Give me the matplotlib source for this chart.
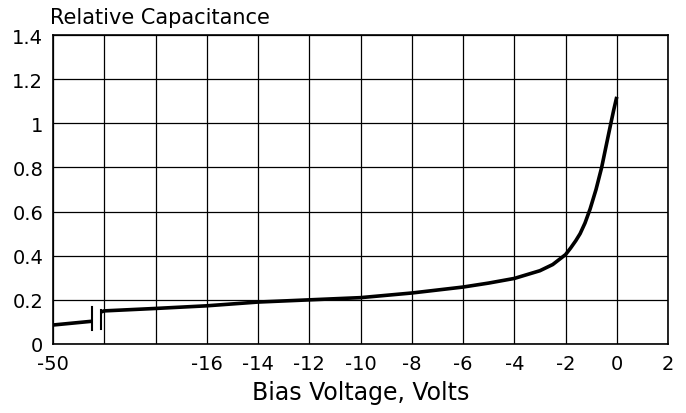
import numpy as np
import matplotlib
matplotlib.use('Agg')
import matplotlib.pyplot as plt

# data (volts, relative capacitance)
left_v = [-50, -27.2]
left_c = [0.086, 0.103]

right_v = [-22, -20, -18, -16, -14, -12, -10, -8, -6, -5, -4, -3, -2.5, -2,
           -1.8, -1.6, -1.43, -1.24, -1.04, -0.81, -0.59, -0.42, -0.24, -0.12, 0]
right_c = [0.145, 0.150, 0.161, 0.173, 0.190, 0.200, 0.210, 0.231, 0.258, 0.276,
           0.297, 0.332, 0.360, 0.405, 0.435, 0.468, 0.50, 0.548, 0.612, 0.70,
           0.80, 0.895, 0.995, 1.06, 1.12]

break_v = [-27.2, -22]
break_lo = [0.063, 0.068]
break_hi = [0.168, 0.155]

xticks = [-50, -20, -18, -16, -14, -12, -10, -8, -6, -4, -2, 0, 2]
xlabels = ['-50', '', '', '-16', '-14', '-12', '-10', '-8', '-6', '-4', '-2', '0', '2']
yticks = [0, 0.2, 0.4, 0.6, 0.8, 1.0, 1.2, 1.4]
ylabels = ['0', '0.2', '0.4', '0.6', '0.8', '1', '1.2', '1.4']


def fwd(v):
    v = np.asarray(v, dtype=float)
    return np.where(v < -20, (v + 50) / 30, v / 2 + 11)


def inv(u):
    u = np.asarray(u, dtype=float)
    return np.where(u < 1, u * 30 - 50, (u - 11) * 2)


fig = plt.figure(figsize=(6.86, 4.14), dpi=100)
ax = fig.add_axes([0.0773, 0.1667, 0.8965, 0.7463])
ax.set_xscale('function', functions=(fwd, inv))
ax.set_xlim(-50, 2)
ax.set_ylim(0, 1.4)

ax.set_xticks(xticks)
ax.set_xticklabels(xlabels)
ax.set_yticks(yticks)
ax.set_yticklabels(ylabels)
ax.tick_params(length=0, labelsize=14, pad=7)
ax.grid(True, color='black', linewidth=0.9)
ax.set_axisbelow(True)
for s in ax.spines.values():
    s.set_linewidth(1.2)

ax.plot(left_v, left_c, color='black', linewidth=2.6, solid_capstyle='butt')
ax.plot(right_v, right_c, color='black', linewidth=2.6, solid_capstyle='butt',
        solid_joinstyle='round')
for bv, lo, hi in zip(break_v, break_lo, break_hi):
    ax.plot([bv, bv], [lo, hi], color='black', linewidth=1.5)

fig.text(0.073, 0.933, 'Relative Capacitance', fontsize=15, ha='left', va='bottom')
ax.set_xlabel('Bias Voltage, Volts', fontsize=17, labelpad=5)

plt.savefig('out.png', dpi=100)
